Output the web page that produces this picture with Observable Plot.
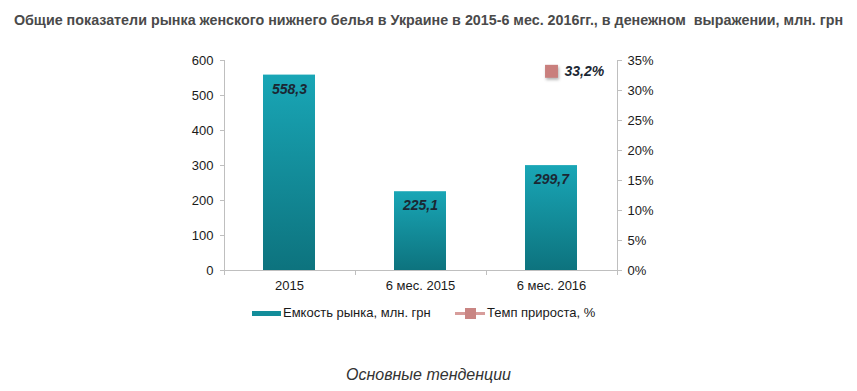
<!DOCTYPE html>
<html><head><meta charset="utf-8">
<script src="https://cdn.jsdelivr.net/npm/d3@7"></script>
<script src="https://cdn.jsdelivr.net/npm/@observablehq/plot@0.6"></script>
<style>
body{margin:0;background:#fff;font-family:"Liberation Sans",Arial,sans-serif;}
#wrap{position:relative;width:857px;height:391px;overflow:hidden;background:#fff;}
#title{position:absolute;left:0;top:10px;width:857px;text-align:center;font-weight:bold;font-size:14.3px;line-height:20px;color:#4a4a4a;white-space:pre;}
#chart{position:absolute;left:0;top:40px;}
.lt{position:absolute;top:305px;font-size:13px;line-height:16px;color:#1a1a1a;white-space:pre;}
#caption{position:absolute;left:0;width:857px;top:365px;text-align:center;font-style:italic;font-size:16px;line-height:19px;color:#333;}
g[aria-label="dot"] path{filter:drop-shadow(1px 2px 1.5px rgba(0,0,0,0.3));}
</style></head>
<body>
<div id="wrap">
  <div id="title"></div>
  <div id="chart"></div>
  <div id="sw1" style="position:absolute;left:252px;top:311px;width:29px;height:5px;background:#138d9a;"></div>
  <div id="lt1" class="lt" style="left:283px;"></div>
  <div style="position:absolute;left:455px;top:312px;width:30px;height:3px;background:#d79d9b;"></div>
  <div style="position:absolute;left:465px;top:308px;width:11px;height:11px;background:#c98583;"></div>
  <div id="lt2" class="lt" style="left:487px;"></div>
  <div id="caption"></div>
</div>
<script>
const titleText = "Общие показатели рынка женского нижнего белья в Украине в 2015-6 мес. 2016гг., в денежном  выражении, млн. грн";
const captionText = "Основные тенденции";
const categories = ["2015", "6 мес. 2015", "6 мес. 2016"];
const capacity = [558.3, 225.1, 299.7];
const growth = [null, null, 33.2];
const leftTicks = [0, 100, 200, 300, 400, 500, 600];
const rightTicks = [0, 5, 10, 15, 20, 25, 30, 35];
const seriesNames = ["Емкость рынка, млн. грн", "Темп прироста, %"];

document.getElementById("title").textContent = titleText;
document.getElementById("caption").textContent = captionText;
document.getElementById("lt1").textContent = seriesNames[0];
document.getElementById("lt2").textContent = seriesNames[1];

const W = 857, H = 260, mL = 224, mR = 240, mT = 20, mB = 30;
const yMax = leftTicks[leftTicks.length - 1];
const pMax = rightTicks[rightTicks.length - 1];
const toLeft = p => p * yMax / pMax;
const fmt = v => v.toFixed(1).replace(".", ",");
const rows = categories.map((c, i) => ({cat: c, cap: capacity[i], g: growth[i]}));
const gRows = rows.filter(d => d.g != null);

const defsMark = () => {
  const defs = d3.create("svg:defs");
  const lg = defs.append("linearGradient").attr("id", "barGrad")
    .attr("x1", 0).attr("y1", 0).attr("x2", 0).attr("y2", 1);
  lg.append("stop").attr("offset", "0%").attr("stop-color", "#19a6b6");
  lg.append("stop").attr("offset", "100%").attr("stop-color", "#0d737e");
  return defs.node();
};

const frameMark = (index, scales, values, dims) => {
  const {width, height, marginLeft, marginRight, marginTop, marginBottom} = dims;
  const g = d3.create("svg:g").attr("stroke", "#bfbfbf").attr("stroke-width", 1);
  const x0 = marginLeft + 0.5, x1 = width - marginRight + 0.5;
  const yb = height - marginBottom;
  g.append("line").attr("x1", x0).attr("x2", x0).attr("y1", marginTop).attr("y2", yb);
  g.append("line").attr("x1", x1).attr("x2", x1).attr("y1", marginTop).attr("y2", yb);
  const step = (width - marginLeft - marginRight) / categories.length;
  for (let i = 0; i <= categories.length; i++) {
    const xx = Math.round(marginLeft + i * step) + 0.5;
    g.append("line").attr("x1", xx).attr("x2", xx).attr("y1", yb).attr("y2", yb + 5);
  }
  return g.node();
};

const plot = Plot.plot({
  width: W, height: H,
  marginLeft: mL, marginRight: mR, marginTop: mT, marginBottom: mB,
  style: {fontFamily: "Liberation Sans, Arial, sans-serif", fontSize: "13px", color: "#1a1a1a", background: "transparent"},
  x: {domain: categories, paddingInner: 0.6, paddingOuter: 0.3, label: null},
  y: {domain: [0, yMax], label: null},
  marks: [
    defsMark,
    Plot.barY(rows, {x: "cat", y: "cap", fill: "url(#barGrad)"}),
    Plot.ruleY([0], {stroke: "#bfbfbf"}),
    frameMark,
    Plot.axisY(leftTicks, {anchor: "left", tickSize: 4, tickPadding: 7, stroke: "#bfbfbf", label: null}),
    Plot.axisY(rightTicks.map(toLeft), {anchor: "right", tickSize: 4, tickPadding: 6, stroke: "#bfbfbf", label: null,
      tickFormat: d => Math.round(d * pMax / yMax) + "%"}),
    Plot.axisX({tickSize: 0, tickPadding: 10, label: null}),
    Plot.text(rows, {x: "cat", y: "cap", text: d => fmt(d.cap), dy: 14, fontWeight: "bold", fontStyle: "italic", fill: "#1b2733", fontSize: 14}),
    Plot.dot(gRows, {x: "cat", y: d => toLeft(d.g), symbol: "square", r: 7.3, fill: "#c97f7d"}),
    Plot.text(gRows, {x: "cat", y: d => toLeft(d.g), text: d => fmt(d.g) + "%", dx: 13, textAnchor: "start", fontWeight: "bold", fontStyle: "italic", fill: "#1b2733", fontSize: 14})
  ]
});
document.getElementById("chart").appendChild(plot);
</script>
</body></html>
